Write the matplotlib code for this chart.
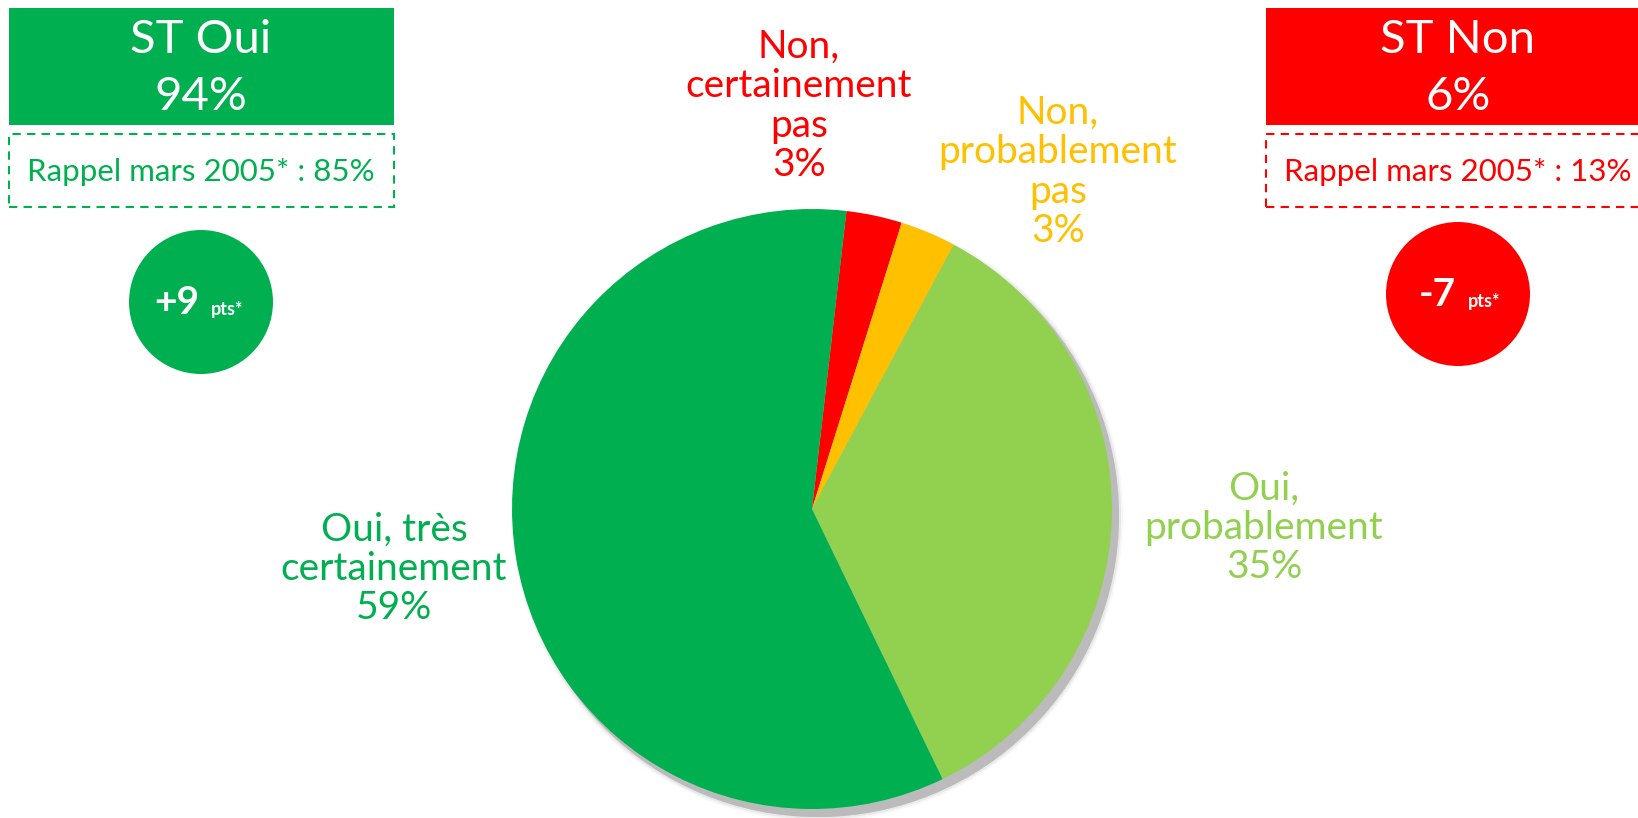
import matplotlib.pyplot as plt
from matplotlib.patches import Rectangle, Circle

# Pie data (clockwise from the top)
labels = ['Non,\ncertainement\npas', 'Non,\nprobablement\npas', 'Oui,\nprobablement', 'Oui, très\ncertainement']
values = [3, 3, 35, 59]
colors = ['#FF0000', '#FFC000', '#92D050', '#00B050']

# Summary boxes
st_titles = ['ST Oui', 'ST Non']
st_values = [94, 6]
rappel_values = [85, 13]
evolution = ['+9', '-7']
st_colors = ['#00B050', '#FF0000']

W, H = 1638, 818
plt.rcParams['font.family'] = ['Lato', 'DejaVu Sans']

fig = plt.figure(figsize=(W / 100, H / 100), dpi=100)
ax = fig.add_axes([0, 0, 1, 1])

# Pie in pixel coordinates (y going up)
cx, cy, r = 812, H - 509, 300

# soft shadow
for k, a in [(10, 0.10), (8, 0.2), (6, 0.5)]:
    ax.add_patch(Circle((cx + 6, cy - 7), r + k - 5, color='#b0b0b0', alpha=a, lw=0, zorder=1))
ax.add_patch(Circle((cx + 6, cy - 7), r + 1, color='#bbbbbb', lw=0, zorder=1))

wedges, _ = ax.pie(values, colors=colors, startangle=83.4, counterclock=False,
                   center=(cx, cy), radius=r, wedgeprops=dict(linewidth=0))
for w in wedges:
    w.set_zorder(2)

# Slice labels
label_pos = [(799, 106), (1058, 172), (1264, 528), (394, 569)]
for lab, v, c, (x, y) in zip(labels, values, colors, label_pos):
    ax.text(x, H - y, f'{lab}\n{v}%', color=c, fontsize=28, ha='center', va='center',
            linespacing=1.12, zorder=5)

# ST boxes, reminder boxes and evolution circles
box_x = [9, 1266]
circ_pos = [(201, 302), (1458, 294)]
for i in range(2):
    x0 = box_x[i]
    col = st_colors[i]
    ax.add_patch(Rectangle((x0, H - 125), 385, 117, color=col, lw=0, zorder=3))
    ax.text(x0 + 192, H - 40, st_titles[i], color='white', fontsize=34, ha='center', va='center', zorder=4)
    ax.text(x0 + 192, H - 97, f'{st_values[i]}%', color='white', fontsize=34, ha='center', va='center', zorder=4)
    ax.add_patch(Rectangle((x0, H - 207), 385, 73, fill=False, edgecolor=col, lw=1.5,
                           linestyle=(0, (4, 3)), zorder=3))
    ax.text(x0 + 192, H - 172, f'Rappel mars 2005* : {rappel_values[i]}%', color=col, fontsize=22.5,
            ha='center', va='center', zorder=4)
    px, py = circ_pos[i]
    ax.add_patch(Circle((px, H - py), 72, color=col, lw=0, zorder=3))
    ax.text(px - 2, H - py, evolution[i], color='white', fontsize=28, fontweight='bold',
            ha='right', va='center', zorder=4)
    ax.text(px + 10, H - py - 7, 'pts*', color='white', fontsize=13, fontweight='bold',
            ha='left', va='center', zorder=4)

ax.set_xlim(0, W)
ax.set_ylim(0, H)
ax.set_aspect('auto')
ax.axis('off')

fig.savefig('out.png', dpi=100, facecolor='white')
